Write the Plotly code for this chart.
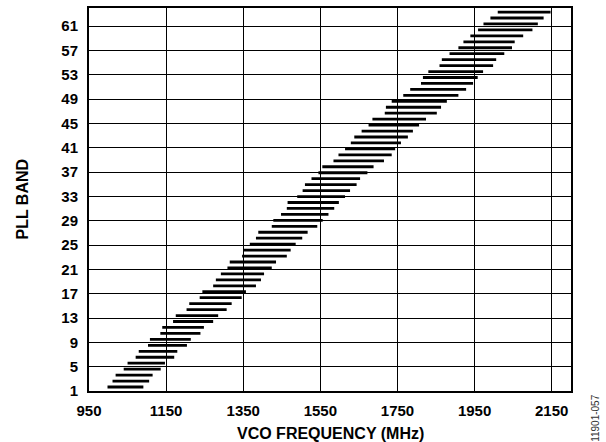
import plotly.graph_objects as go

# PLL band number and VCO frequency span (MHz)
bands = list(range(1, 65))
f_start = [998, 1011, 1019, 1040, 1050, 1071, 1079, 1103, 1108, 1135,
           1140, 1168, 1175, 1203, 1210, 1237, 1244, 1272, 1279, 1292,
           1309, 1315, 1347, 1351, 1367, 1383, 1389, 1424, 1428, 1448,
           1463, 1465, 1490, 1504, 1510, 1527, 1545, 1555, 1584, 1597,
           1614, 1629, 1638, 1657, 1675, 1685, 1717, 1720, 1735, 1765,
           1783, 1811, 1816, 1830, 1859, 1865, 1885, 1908, 1921, 1939,
           1959, 1973, 1991, 2010]
f_end = [1091, 1106, 1115, 1136, 1147, 1171, 1179, 1204, 1214, 1239,
         1248, 1272, 1285, 1307, 1320, 1346, 1357, 1383, 1396, 1404,
         1424, 1435, 1463, 1473, 1486, 1503, 1517, 1542, 1556, 1571,
         1586, 1598, 1614, 1627, 1644, 1653, 1672, 1688, 1715, 1735,
         1744, 1759, 1777, 1790, 1806, 1824, 1852, 1863, 1878, 1908,
         1928, 1946, 1958, 1972, 1998, 2006, 2027, 2047, 2054, 2076,
         2100, 2114, 2129, 2147]
x_ticks = [950, 1150, 1350, 1550, 1750, 1950, 2150]
y_ticks = [1, 5, 9, 13, 17, 21, 25, 29, 33, 37, 41, 45, 49, 53, 57, 61]

# bars in the source sit slightly off the band grid
BAND_OFFSET = 0.66
BAND_STEP = 0.979

xs, ys = [], []
for b, s, e in zip(bands, f_start, f_end):
    yv = 1 + BAND_OFFSET + (b - 1) * BAND_STEP
    xs += [s, e, None]
    ys += [yv, yv, None]

font = "Arial, Liberation Sans, sans-serif"

fig = go.Figure()
fig.add_trace(go.Scatter(x=xs, y=ys, mode="lines",
                         line=dict(color="black", width=2.8),
                         showlegend=False, hoverinfo="skip"))

axis_common = dict(showgrid=True, gridcolor="black", gridwidth=1.3,
                   showline=True, linecolor="black", linewidth=2, mirror=True,
                   zeroline=False, ticks="",
                   tickfont=dict(family=font, size=15, color="black", weight="bold"))

fig.update_xaxes(range=[950, 2200], tickvals=x_ticks, ticklabelstandoff=5, **axis_common)
fig.update_yaxes(range=[1, 64], tickvals=y_ticks, ticklabelstandoff=6, **axis_common)

fig.update_layout(
    width=606, height=442,
    margin=dict(l=89, r=35, t=6, b=51),
    plot_bgcolor="white", paper_bgcolor="white",
    font=dict(family=font, color="black"),
    annotations=[
        dict(text="VCO FREQUENCY (MHz)", xref="paper", yref="paper",
             x=0.5, y=-0.112, xanchor="center", yanchor="middle", showarrow=False,
             font=dict(size=16, weight="bold", family=font)),
        dict(text="PLL BAND", xref="paper", yref="paper",
             x=-0.139, y=0.5, xanchor="center", yanchor="middle", showarrow=False,
             textangle=-90, font=dict(size=16, weight="bold", family=font)),
        dict(text="11901-057", xref="paper", yref="paper",
             x=1.052, y=-0.07, xanchor="center", yanchor="middle", showarrow=False,
             textangle=-90, font=dict(size=10, family=font, color="#333333")),
    ],
)

# drop the default page margin so the figure fills the window exactly
fig.write_html("out.html", config={"displayModeBar": False},
               post_script="document.body.style.margin='0';")
